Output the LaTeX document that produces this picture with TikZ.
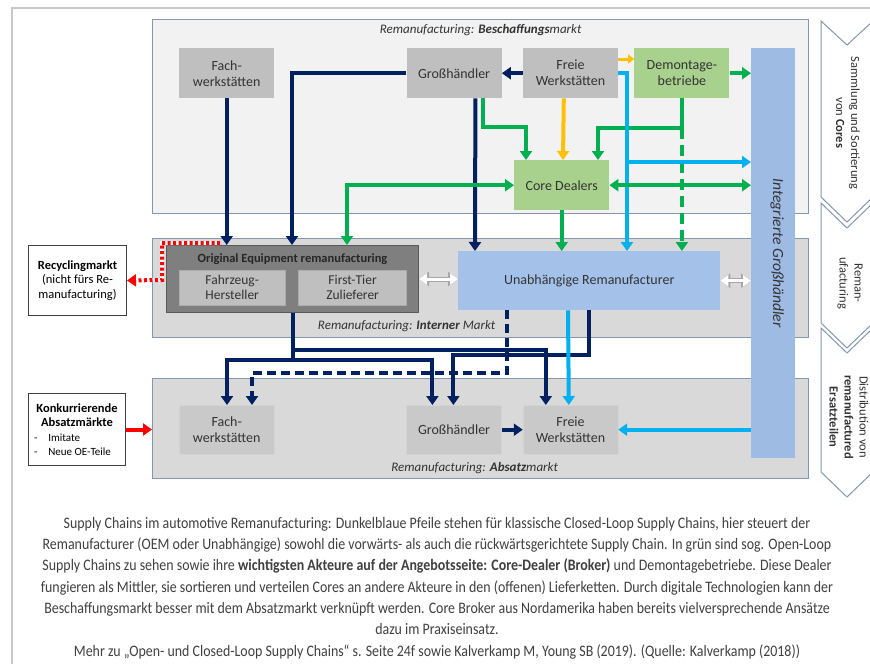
\documentclass[tikz,border=0pt]{standalone}
\usepackage{fontspec}
\setmainfont{Carlito}
\newfontfamily\legendfont[FakeStretch=0.87]{Carlito}
\usetikzlibrary{arrows.meta,calc,positioning}
\definecolor{NavyFlow}{HTML}{002060}
\definecolor{GreenFlow}{HTML}{00B050}
\definecolor{CyanFlow}{HTML}{00B0F0}
\definecolor{OrangeFlow}{HTML}{FFC000}
\definecolor{RedFlow}{HTML}{FF0000}
\definecolor{PanelLine}{HTML}{8497B0}
\definecolor{PanelLight}{HTML}{F2F2F2}
\definecolor{PanelGray}{HTML}{D9D9D9}
\definecolor{ActorGray}{HTML}{BFBFBF}
\definecolor{SalesGray}{HTML}{C9C9C9}
\definecolor{SalesLine}{HTML}{D4D4D4}
\definecolor{DealerGreen}{HTML}{A9D18E}
\definecolor{RemanBlue}{HTML}{A4C2E9}
\definecolor{BarBlue}{HTML}{9EBBE3}
\definecolor{OEGray}{HTML}{7F7F7F}
\definecolor{OELine}{HTML}{595959}
\definecolor{FrameGray}{HTML}{C8C8C8}
\definecolor{LinkGray}{HTML}{A6A6A6}
\definecolor{TextGray}{HTML}{333333}
\definecolor{CaptionGray}{HTML}{404040}

\begin{document}
\begin{tikzpicture}[x=1pt, y=-1pt,
    every node/.style={inner sep=0pt, text=TextGray, font=\fontsize{14}{16}\selectfont},
    panel/.style={draw=PanelLine, line width=1.2pt, anchor=north west, minimum width=656pt},
    actor/.style={fill=ActorGray, anchor=north west, minimum width=95pt, minimum height=50pt, align=center},
    dealer/.style={actor, fill=DealerGreen},
    seller/.style={actor, fill=SalesGray, draw=SalesLine, minimum height=49pt},
    maker/.style={fill=ActorGray, draw=OELine!50, anchor=north west, minimum height=35pt,
        align=center, font=\fontsize{13.5}{15}\selectfont},
    market/.style={draw=black!75, fill=white, line width=1pt, anchor=north west, align=center,
        text=black, font=\fontsize{12.5}{14.5}\selectfont},
    tag/.style={font=\itshape\fontsize{13}{15}\selectfont},
    phase/.style={draw=PanelLine, fill=white, line width=1pt},
    phasetext/.style={rotate=-90, align=center, font=\fontsize{12.5}{15}\selectfont},
    flow/.style={line width=4pt, -{Triangle[width=12pt,length=9pt]}},
    both/.style={{Triangle[width=12pt,length=9pt]}-{Triangle[width=12pt,length=9pt]}},
    closedloop/.style={flow, color=NavyFlow},
    openloop/.style={flow, color=GreenFlow},
    remanflow/.style={flow, color=CyanFlow},
    freeflow/.style={flow, color=OrangeFlow},
    rivalflow/.style={flow, color=RedFlow},
    recycleflow/.style={flow, color=RedFlow, dash pattern=on 3pt off 2.5pt,
        preaction={draw=white, line width=4pt, dash pattern=, arrows=-, shorten >=8pt}},
    link/.style={line width=3pt, color=white,
        arrows={Triangle[width=11pt,length=8pt]-Triangle[width=11pt,length=8pt]},
        preaction={draw=LinkGray, line width=5pt,
            arrows={Triangle[width=14pt,length=10pt]-Triangle[width=14pt,length=10pt]}}}]

\useasboundingbox (0,0) rectangle (870,664);
\fill[white] (0,0) rectangle (870,664);
\draw[FrameGray, line width=1.2pt] (12,664) -- (12,8) -- (870,8);

% Maerkte
\node[panel, fill=PanelLight, minimum height=194pt] (beschaffung) at (152,19) {};
\node[panel, fill=PanelGray, minimum height=99pt] (intern) at (152,238) {};
\node[panel, fill=PanelGray, minimum height=100pt] (absatz) at (152,378) {};
\node[tag, below=5pt of beschaffung.north] (tagB) {Remanufacturing: \textbf{Beschaffungs}markt};
\node[tag] (tagI) at ($(intern.south)+(-74,-12)$) {Remanufacturing: \textbf{Interner} Markt};
\node[tag] (tagA) at ($(absatz.south)+(-6,-11)$) {Remanufacturing: \textbf{Absatz}markt};

% Beschaffungsmarkt
\node[actor] (fachB) at (179,48) {Fach-\\werkstätten};
\node[actor, right=132pt of fachB] (grossB) {Großhändler};
\node[actor, right=21pt of grossB] (freieB) {Freie\\Werkstätten};
\node[dealer, right=16pt of freieB] (demontage) {Demontage-\\betriebe};
\node[dealer] (core) at (514,160) {Core Dealers};

\node[anchor=north west, fill=BarBlue, minimum width=44pt, minimum height=410pt] (bar) at (751,48) {};
\node[rotate=-90, text=black!80, font=\itshape\fontsize{15.5}{18}\selectfont] (barText)
    at ($(bar.center)+(4,0)$) {Integrierte Großhändler};

% Interner Markt
\node[anchor=north west, fill=OEGray, draw=OELine, line width=1pt, minimum width=252pt,
    minimum height=67pt] (oe) at (166,245) {};
\node[text=black!85, font=\bfseries\fontsize{12.5}{14}\selectfont] (oeTitle)
    at ($(oe.north)+(0,14)$) {Original Equipment remanufacturing};
\node[maker, minimum width=106pt] (fahrzeug) at (179,270) {Fahrzeug-\\Hersteller};
\node[maker, minimum width=108pt, right=13pt of fahrzeug] (firsttier) {First-Tier\\Zulieferer};
\node[anchor=north west, fill=RemanBlue, minimum width=262pt, minimum height=59pt] (unab)
    at (458,251) {Unabhängige Remanufacturer};

% Absatzmarkt
\node[seller] (fachA) at (179,405) {Fach-\\werkstätten};
\node[seller, right=132pt of fachA] (grossA) {Großhändler};
\node[seller, right=21pt of grossA] (freieA) {Freie\\Werkstätten};

\node[market, minimum width=98pt, minimum height=70pt] (recycling) at (28,245)
    {\textbf{Recyclingmarkt}\\(nicht fürs Re-\\manufacturing)};
\node[market, minimum width=97pt, minimum height=72pt] (konk) at (28,393)
    {\textbf{Konkurrierende}\\\textbf{Absatzmärkte}\\
     {\fontsize{11}{13}\selectfont\makebox[86pt][l]{-\hspace{11pt}Imitate}}\\
     {\fontsize{11}{13}\selectfont\makebox[86pt][l]{-\hspace{11pt}Neue OE-Teile}}};

% Phasen
\draw[phase] (821,21) -- (847,45) -- (873,21) -- (873,197) -- (847,222) -- (821,197) -- cycle;
\draw[phase] (821,203) -- (847,228) -- (873,203) -- (873,323) -- (847,348) -- (821,323) -- cycle;
\draw[phase] (821,328) -- (847,353) -- (873,328) -- (873,472) -- (847,497) -- (821,472) -- cycle;
\node[phasetext] (collectText) at (848,123) {Sammlung und Sortierung\\von \textbf{Cores}};
\node[phasetext] (remanText) at (850,283) {Reman-\\ufacturing};
\node[phasetext] (distText) at (849,417) {Distribution von\\\textbf{remanufactured}\\\textbf{Ersatzteilen}};

% Pfeile oben
\draw[closedloop] (fachB.south) -- (fachB.south |- oe.north);
\draw[closedloop] (grossB.west) -| ($(oe.north west)+(126,0)$);
\draw[closedloop] (freieB.west) -- (grossB.east);
\draw[closedloop] ($(grossB.south west)+(69,0)$) -- ($(unab.north west)+(17,0)$);
\draw[openloop] ($(grossB.south west)+(77,0)$) |- ($(core.north west)+(12,-33)$) -- ($(core.north west)+(12,0)$);
\draw[freeflow] ($(freieB.south west)+(41,0)$) -- ($(core.north west)+(49,0)$);
\draw[freeflow, line width=3pt, -{Triangle[width=9pt,length=6pt]}]
    ($(freieB.north east)+(0,11)$) -- ($(demontage.north west)+(0,11)$);
\draw[openloop] (demontage.south) |- ($(core.north west)+(84,-32)$) -- ($(core.north west)+(84,0)$);
\draw[openloop, dash pattern=on 11pt off 6pt] ($(demontage.south)+(0,30)$) -- (demontage.south |- unab.north);
\draw[openloop] (demontage.east) -- (demontage.east -| bar.west);
\draw[remanflow] (freieB.east) -| ($(unab.north west)+(169,0)$);
\draw[remanflow] ($(unab.north west)+(169,-89)$) -- ($(bar.north west)+(0,114)$);
\draw[openloop, both] (core.west) -| ($(oe.north west)+(181,0)$);
\draw[openloop, both] (core.east) -- (core.east -| bar.west);
\draw[openloop] (core.south) -- (core.south |- unab.north);

% Pfeile Mitte und unten
\draw[recycleflow] ($(oe.north west)+(54,-2)$) -| ($(oe.north west)+(-4,35)$) -- (recycling.east);
\draw[link] (oe.east) -- (oe.east -| unab.west);
\draw[link] (unab.east) -- (unab.east -| bar.west);

\coordinate (oeOut) at ($(oe.south west)+(127,0)$);
\draw[closedloop] (oeOut) |- ($(freieA.north west)+(23,-55)$) -- ($(freieA.north west)+(23,0)$);
\draw[closedloop] (oeOut) |- ($(fachA.north west)+(48,-45)$) -- ($(fachA.north west)+(48,0)$);
\draw[closedloop] (oeOut) |- ($(grossA.north west)+(26,-45)$) -- ($(grossA.north west)+(26,0)$);
\draw[closedloop] ($(unab.south west)+(131,0)$) |- ($(grossA.north west)+(47,-50)$) -- ($(grossA.north west)+(47,0)$);
\draw[closedloop, dash pattern=on 9pt off 5pt] ($(unab.south west)+(49,0)$) |- ($(fachA.north west)+(73,-32)$) -- ($(fachA.north west)+(73,0)$);
\draw[remanflow] ($(unab.south west)+(110,0)$) -- ($(freieA.north west)+(46,0)$);
\draw[closedloop] (grossA.east) -- (freieA.west);
\draw[remanflow] (freieA.east -| bar.west) -- (freieA.east);
\draw[rivalflow] (konk.east) -- (konk.east -| absatz.west);

% Bildunterschrift
\node[anchor=north, align=center, text=CaptionGray, font=\legendfont\fontsize{16}{21.3}\selectfont] (legend)
    at (437,517) {Supply Chains im automotive Remanufacturing: Dunkelblaue Pfeile stehen für klassische Closed-Loop Supply Chains, hier steuert der\\
    Remanufacturer (OEM oder Unabhängige) sowohl die vorwärts- als auch die rückwärtsgerichtete Supply Chain. In grün sind sog. Open-Loop\\
    Supply Chains zu sehen sowie ihre \textbf{wichtigsten Akteure auf der Angebotsseite: Core-Dealer (Broker)} und Demontagebetriebe. Diese Dealer\\
    fungieren als Mittler, sie sortieren und verteilen Cores an andere Akteure in den (offenen) Lieferketten. Durch digitale Technologien kann der\\
    Beschaffungsmarkt besser mit dem Absatzmarkt verknüpft werden. Core Broker aus Nordamerika haben bereits vielversprechende Ansätze\\
    dazu im Praxiseinsatz.\\
    Mehr zu „Open- und Closed-Loop Supply Chains“ s. Seite 24f sowie Kalverkamp M, Young SB (2019). (Quelle: Kalverkamp (2018))};
\end{tikzpicture}
\end{document}
